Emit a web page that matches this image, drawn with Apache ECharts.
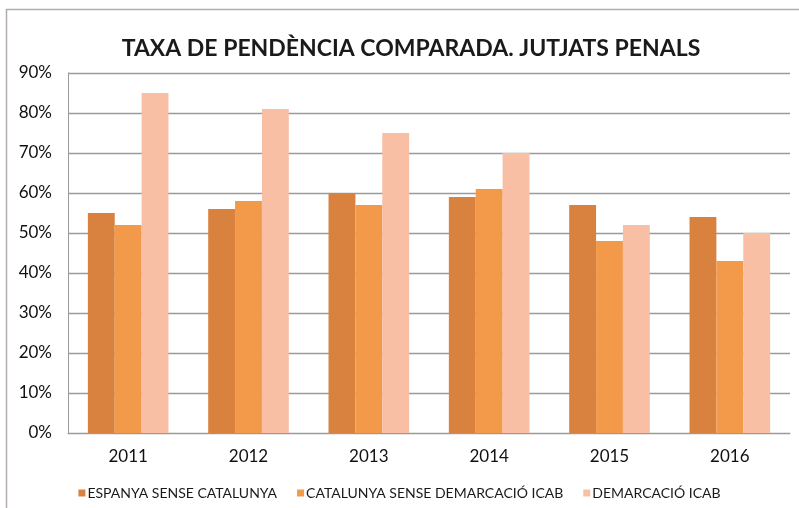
<!DOCTYPE html>
<html>
<head>
<meta charset="utf-8">
<script src="https://cdn.jsdelivr.net/npm/echarts@6/dist/echarts.min.js"></script>
<style>
  html, body { margin: 0; padding: 0; background: #fff; }
  #chart { width: 799px; height: 508px; }
</style>
</head>
<body>
<div id="chart"></div>
<script>
// Pending-case rate of criminal courts, by year
const years = ['2011', '2012', '2013', '2014', '2015', '2016'];
const seriesNames = ['ESPANYA SENSE CATALUNYA', 'CATALUNYA SENSE DEMARCACIÓ ICAB', 'DEMARCACIÓ ICAB'];
const espanya = [55, 56, 60, 59, 57, 54];
const catalunya = [52, 58, 57, 61, 48, 43];
const icab = [85, 81, 75, 70, 52, 50];
const colors = ['#D9823F', '#F39A4A', '#F8BFA5'];

const font = 'Lato, "Open Sans", sans-serif';
const chart = echarts.init(document.getElementById('chart'));

const values = [espanya, catalunya, icab];
chart.setOption({
  animation: false,
  textStyle: { fontFamily: font },
  title: {
    text: 'TAXA DE PENDÈNCIA COMPARADA. JUTJATS PENALS',
    left: 406, top: 32, textAlign: 'center',
    textStyle: { fontFamily: font, fontSize: 23, fontWeight: 'bold', color: '#1a1a1a' }
  },
  graphic: [{
    type: 'rect', silent: true,
    shape: { x: 6.5, y: 9.5, width: 820, height: 520 },
    style: { fill: 'none', stroke: '#B3ABAB', lineWidth: 1.5 }
  }],
  legend: {
    bottom: 3, left: 'center',
    itemWidth: 7, itemHeight: 7, itemGap: 20,
    icon: 'rect',
    textStyle: { fontFamily: font, fontSize: 14, color: '#1a1a1a', padding: [0, 0, 0, -3] },
    data: seriesNames
  },
  grid: { left: 68, right: 9, top: 73, bottom: 75, containLabel: false },
  xAxis: {
    type: 'category', data: years,
    axisLine: { lineStyle: { color: '#9a9a9a', width: 1 } },
    axisTick: { show: false },
    axisLabel: { fontFamily: font, fontSize: 17, color: '#111', margin: 15 }
  },
  yAxis: {
    type: 'value', min: 0, max: 90, interval: 10,
    axisLine: { show: true, lineStyle: { color: '#9a9a9a' } },
    axisLabel: { formatter: '{value}%', fontFamily: font, fontSize: 17, color: '#111', margin: 16 },
    splitLine: { lineStyle: { color: '#9a9a9a', width: 1.3 } }
  },
  series: seriesNames.map((name, i) => ({
    name, type: 'bar', data: values[i],
    barGap: '0%', barCategoryGap: '33%',
    itemStyle: { color: colors[i] }
  }))
});
</script>
</body>
</html>
